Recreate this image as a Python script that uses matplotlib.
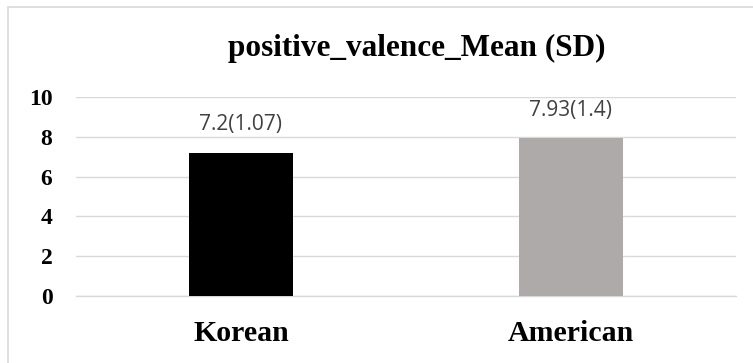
import matplotlib.pyplot as plt
from matplotlib.patches import Rectangle

# data
groups = ['Korean', 'American']
means = [7.2, 7.93]
sds = [1.07, 1.4]
bar_colors = ['#000000', '#aeaaaa']
yticks = [0, 2, 4, 6, 8, 10]

fig = plt.figure(figsize=(7.53, 3.63), dpi=100)
ax = fig.add_axes([76 / 753, 1 - 296 / 363, 660 / 753, 199 / 363])

# chart border (light gray, cut at right/bottom like the original)
fig.patches.append(Rectangle((8 / 753, -0.1), 1.2, 1 - 7 / 363 + 0.1,
                             transform=fig.transFigure, fill=False,
                             edgecolor='#d9d9d9', linewidth=1.2))

x = list(range(len(groups)))
bars = ax.bar(x, means, width=0.315, color=bar_colors, zorder=3)

# value labels "mean(sd)"
for xi, m, s in zip(x, means, sds):
    ax.annotate(f'{m}({s})', (xi, m), xytext=(0, 16), textcoords='offset points',
                ha='center', va='baseline', fontsize=15, family='Open Sans',
                color='#404040')

ax.set_xlim(-0.5, 1.5)
ax.set_ylim(0, 10)
ax.set_yticks(yticks)
ax.set_yticklabels([str(t) for t in yticks], family='Liberation Serif',
                   fontweight='bold', fontsize=17)
ax.set_xticks(x)
ax.set_xticklabels(groups, family='Liberation Serif', fontweight='bold', fontsize=21.5)
ax.tick_params(axis='y', length=0, pad=17)
ax.tick_params(axis='x', length=0, pad=17)

ax.grid(axis='y', color='#d9d9d9', linewidth=1.0, zorder=0)
for side in ['top', 'right', 'left']:
    ax.spines[side].set_visible(False)
ax.spines['bottom'].set_color('#d9d9d9')
ax.spines['bottom'].set_linewidth(1.0)

fig.text(417 / 753, 1 - 56 / 363, 'positive_valence_Mean (SD)', ha='center',
         va='baseline', family='Liberation Serif', fontweight='bold', fontsize=22.5)

fig.savefig('out.png', dpi=100)
